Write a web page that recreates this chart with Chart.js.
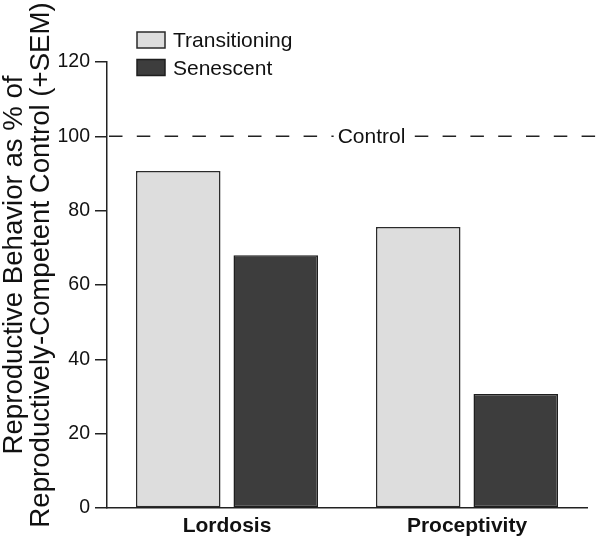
<!DOCTYPE html>
<html>
<head>
<meta charset="utf-8">
<script src="https://cdn.jsdelivr.net/npm/chart.js@4.4.1/dist/chart.umd.min.js"></script>
<style>
  html, body { margin: 0; padding: 0; background: #fff; }
  #wrap { width: 600px; height: 538px; }
</style>
</head>
<body>
<div id="wrap"><canvas id="c" width="600" height="538"></canvas></div>
<script>
// data
const categories = ['Lordosis', 'Proceptivity'];
const seriesNames = ['Transitioning', 'Senescent'];
const transitioning = [90.7, 75.6];
const senescent = [68.0, 30.7];
const yTicks = [0, 20, 40, 60, 80, 100, 120];
const controlLevel = 100;
const controlLabel = 'Control';
const yTitle = ['Reproductive Behavior as % of', 'Reproductively-Competent Control (+SEM)'];

const FONT = '"Liberation Sans", Arial, sans-serif';
const INK = '#111';
const AXIS = '#222';

// legend drawn by hand so it can sit in the top-left like the original
const legendPlugin = {
    id: 'cornerLegend',
    afterDraw(chart) {
        const ctx = chart.ctx;
        ctx.save();
        ctx.font = '21px ' + FONT;
        ctx.textBaseline = 'alphabetic';
        chart.data.datasets.forEach((ds, i) => {
            const top = 32 + i * 27.5;
            ctx.fillStyle = ds.backgroundColor;
            ctx.fillRect(137, top, 28, 16);
            ctx.strokeStyle = ds.borderColor;
            ctx.lineWidth = 1.5;
            ctx.strokeRect(137, top, 28, 16);
            ctx.fillStyle = INK;
            ctx.fillText(ds.label, 173, top + 15.3);
        });
        ctx.restore();
    }
};

// dashed reference line at the control level
const controlPlugin = {
    id: 'controlLine',
    afterDatasetsDraw(chart) {
        const ctx = chart.ctx;
        const y = chart.scales.y.getPixelForValue(controlLevel);
        const left = chart.chartArea.left;
        ctx.save();
        ctx.strokeStyle = AXIS;
        ctx.lineWidth = 1.5;
        ctx.setLineDash([13.5, 14.3]);
        ctx.beginPath();
        ctx.moveTo(left + 2, y);
        ctx.lineTo(chart.width, y);
        ctx.stroke();
        ctx.setLineDash([]);
        ctx.font = '21px ' + FONT;
        const cx = 371.5;
        const w = ctx.measureText(controlLabel).width;
        ctx.fillStyle = '#fff';
        ctx.fillRect(cx - w / 2 - 4, y - 12, w + 9, 24);
        ctx.fillStyle = INK;
        ctx.textAlign = 'center';
        ctx.textBaseline = 'middle';
        ctx.fillText(controlLabel, cx, y + 1);
        ctx.restore();
    }
};

// two-line rotated y title
const yTitlePlugin = {
    id: 'yTitle',
    afterDraw(chart) {
        const ctx = chart.ctx;
        ctx.save();
        ctx.font = '27.6px ' + FONT;
        ctx.fillStyle = INK;
        ctx.textAlign = 'center';
        ctx.textBaseline = 'alphabetic';
        const baselines = [22, 48.5];
        yTitle.forEach((line, i) => {
            ctx.save();
            ctx.translate(baselines[i], 265);
            ctx.rotate(-Math.PI / 2);
            ctx.fillText(line, 0, 0);
            ctx.restore();
        });
        ctx.restore();
    }
};

const ctx = document.getElementById('c').getContext('2d');
new Chart(ctx, {
    type: 'bar',
    data: {
        labels: categories,
        datasets: [
            {
                label: seriesNames[0],
                data: transitioning,
                backgroundColor: '#dddddd',
                borderColor: '#2a2a2a',
                borderWidth: 1.5,
                borderSkipped: false
            },
            {
                label: seriesNames[1],
                data: senescent,
                backgroundColor: '#3d3d3d',
                borderColor: '#1e1e1e',
                borderWidth: 1.5,
                borderSkipped: false
            }
        ]
    },
    options: {
        responsive: false,
        animation: false,
        layout: { padding: { top: 62, right: 13, left: 0, bottom: 0 } },
        datasets: {
            bar: { categoryPercentage: 0.8125, barPercentage: 0.867 }
        },
        scales: {
            x: {
                grid: { display: false, drawTicks: false },
                border: { display: true, color: AXIS, width: 1.5 },
                ticks: {
                    color: INK,
                    padding: 6,
                    font: { family: FONT, size: 21, weight: 'bold' }
                },
                afterFit: s => { s.height = 30; }
            },
            y: {
                min: 0,
                max: 120,
                afterBuildTicks: s => { s.ticks = yTicks.map(v => ({ value: v })); },
                grid: { drawOnChartArea: false, tickLength: 12, color: AXIS, lineWidth: 1.5 },
                border: { display: true, color: AXIS, width: 1.5 },
                ticks: {
                    color: INK,
                    padding: 5,
                    font: { family: FONT, size: 19.5 }
                },
                afterFit: s => { s.width = 107; }
            }
        },
        plugins: {
            legend: { display: false },
            tooltip: { enabled: false }
        }
    },
    plugins: [controlPlugin, legendPlugin, yTitlePlugin]
});
</script>
</body>
</html>
